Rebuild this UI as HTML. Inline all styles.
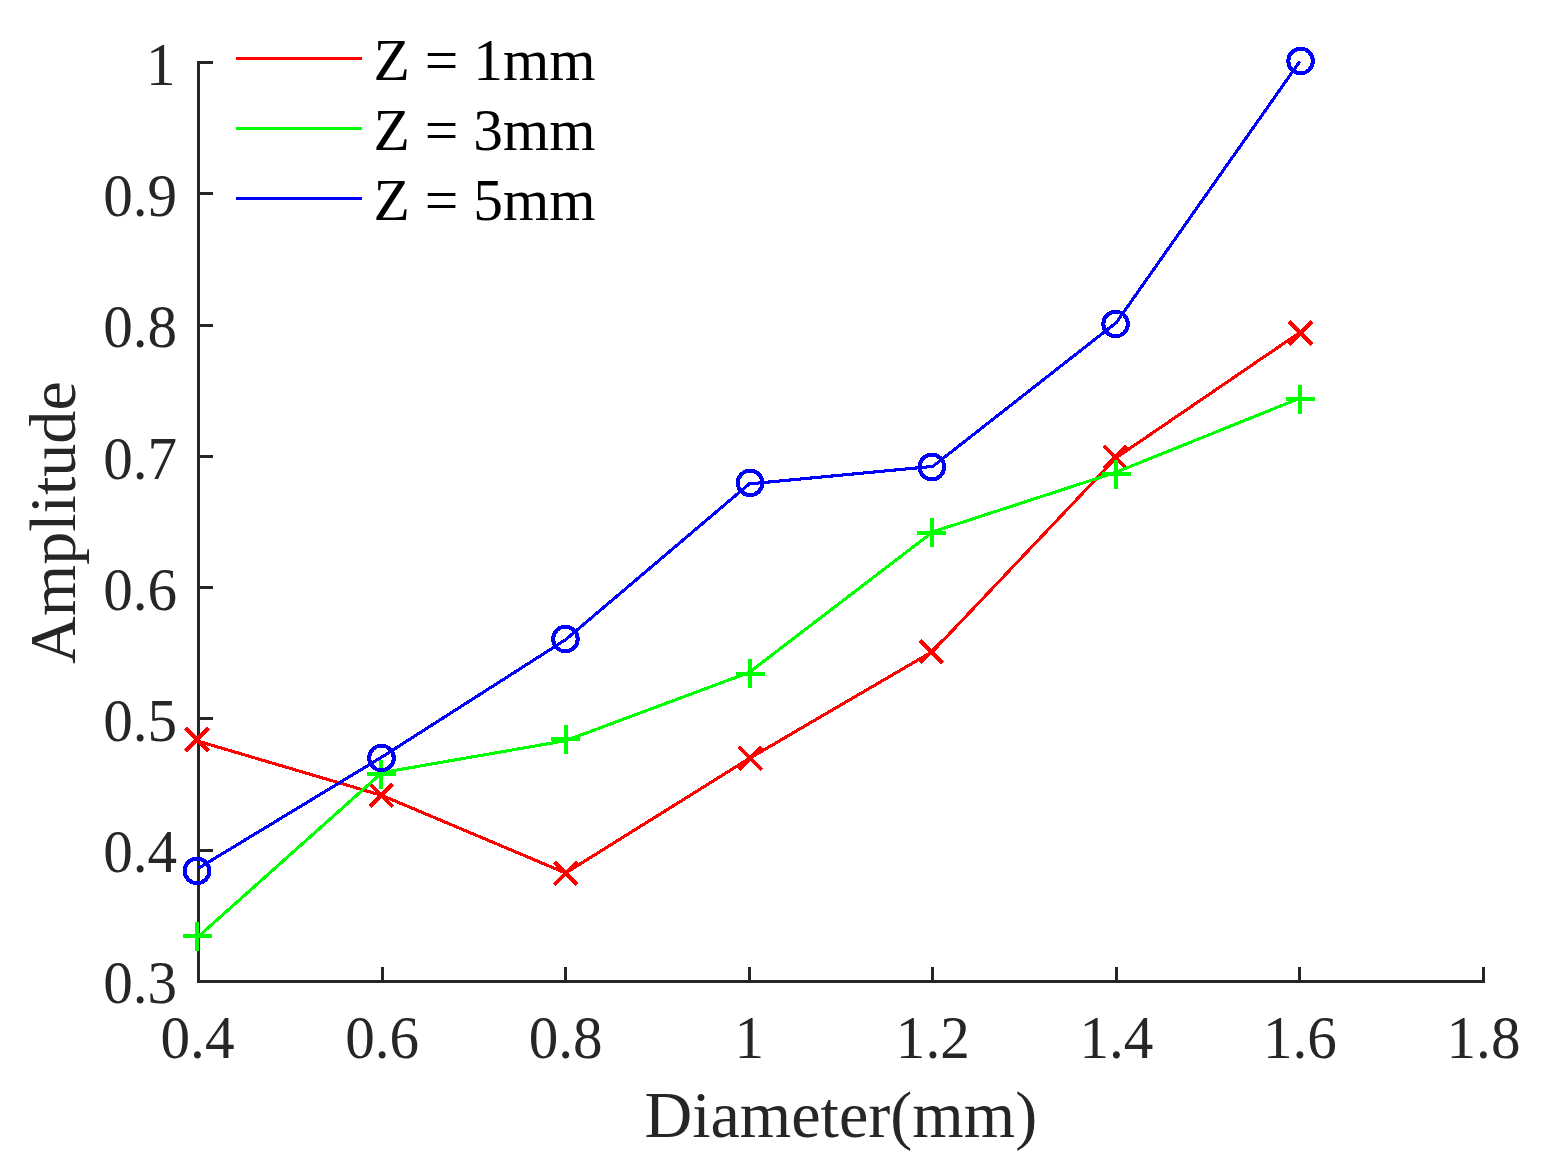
<!DOCTYPE html>
<html lang="en"><head><meta charset="utf-8"><title>Amplitude vs Diameter</title>
<style>
html,body{margin:0;padding:0;background:#fff;}
body{width:1545px;height:1174px;overflow:hidden;}
svg{display:block;}
text{font-family:"Liberation Serif",serif;}
.t{font-size:61px;fill:#262626;}
.l{font-size:66.1px;fill:#262626;}
.g{font-size:59.5px;fill:#000;}
</style></head><body>
<svg width="1545" height="1174" viewBox="0 0 1545 1174">
<rect x="0" y="0" width="1545" height="1174" fill="#ffffff"/>
<g stroke="#262626" stroke-width="3" fill="none" shape-rendering="crispEdges">
<line x1="198.5" y1="61" x2="198.5" y2="983"/>
<line x1="197" y1="981.5" x2="1485" y2="981.5"/>
<line x1="382.1" y1="981.5" x2="382.1" y2="967"/>
<line x1="565.6" y1="981.5" x2="565.6" y2="967"/>
<line x1="749.2" y1="981.5" x2="749.2" y2="967"/>
<line x1="932.8" y1="981.5" x2="932.8" y2="967"/>
<line x1="1116.4" y1="981.5" x2="1116.4" y2="967"/>
<line x1="1299.9" y1="981.5" x2="1299.9" y2="967"/>
<line x1="1483.5" y1="981.5" x2="1483.5" y2="967"/>
<line x1="198.5" y1="850.2" x2="213" y2="850.2"/>
<line x1="198.5" y1="718.9" x2="213" y2="718.9"/>
<line x1="198.5" y1="587.6" x2="213" y2="587.6"/>
<line x1="198.5" y1="456.4" x2="213" y2="456.4"/>
<line x1="198.5" y1="325.1" x2="213" y2="325.1"/>
<line x1="198.5" y1="193.8" x2="213" y2="193.8"/>
<line x1="198.5" y1="62.5" x2="213" y2="62.5"/>
</g>
<text class="t" transform="translate(197.5,1057.6) scale(0.97,1)" text-anchor="middle">0.4</text>
<text class="t" transform="translate(382.1,1057.6) scale(0.97,1)" text-anchor="middle">0.6</text>
<text class="t" transform="translate(565.6,1057.6) scale(0.97,1)" text-anchor="middle">0.8</text>
<text class="t" transform="translate(749.2,1057.6) scale(0.97,1)" text-anchor="middle">1</text>
<text class="t" transform="translate(932.8,1057.6) scale(0.97,1)" text-anchor="middle">1.2</text>
<text class="t" transform="translate(1116.4,1057.6) scale(0.97,1)" text-anchor="middle">1.4</text>
<text class="t" transform="translate(1299.9,1057.6) scale(0.97,1)" text-anchor="middle">1.6</text>
<text class="t" transform="translate(1483.5,1057.6) scale(0.97,1)" text-anchor="middle">1.8</text>
<text class="t" transform="translate(177.2,1003.0) scale(0.97,1)" text-anchor="end">0.3</text>
<text class="t" transform="translate(177.2,871.9) scale(0.97,1)" text-anchor="end">0.4</text>
<text class="t" transform="translate(177.2,740.8) scale(0.97,1)" text-anchor="end">0.5</text>
<text class="t" transform="translate(177.2,609.6) scale(0.97,1)" text-anchor="end">0.6</text>
<text class="t" transform="translate(177.2,478.5) scale(0.97,1)" text-anchor="end">0.7</text>
<text class="t" transform="translate(177.2,347.4) scale(0.97,1)" text-anchor="end">0.8</text>
<text class="t" transform="translate(177.2,216.2) scale(0.97,1)" text-anchor="end">0.9</text>
<text class="t" transform="translate(175.7,85.1) scale(0.97,1)" text-anchor="end">1</text>
<text class="l" x="840.8" y="1136.7" text-anchor="middle">Diameter(mm)</text>
<text class="l" transform="translate(75.2,522.6) rotate(-90)" text-anchor="middle">Amplitude</text>
<polyline fill="none" stroke="#ff0000" stroke-width="3.1" stroke-linejoin="miter" shape-rendering="crispEdges" points="198.5,741.3 382.1,795.5 565.6,873.0 749.2,758.5 932.8,651.3 1116.4,457.6 1299.9,332.4"/>
<path fill="none" stroke="#ff0000" stroke-width="4" shape-rendering="crispEdges" d="M185.6 728.2L208.4 751.0M185.6 751.0L208.4 728.2M370.0 784.0L392.8 806.8M370.0 806.8L392.8 784.0M554.2 862.0L577.0 884.8M554.2 884.8L577.0 862.0M738.9 746.8L761.7 769.6M738.9 769.6L761.7 746.8M920.0 640.2L942.8 663.0M920.0 663.0L942.8 640.2M1103.8 445.7L1126.6 468.5M1103.8 468.5L1126.6 445.7M1289.0 321.6L1311.8 344.4M1289.0 344.4L1311.8 321.6"/>
<polyline fill="none" stroke="#00ff00" stroke-width="3.1" stroke-linejoin="miter" shape-rendering="crispEdges" points="198.5,936.4 382.1,772.6 565.6,740.7 749.2,672.4 932.8,531.9 1116.4,472.1 1299.9,398.2"/>
<path fill="none" stroke="#00ff00" stroke-width="4" shape-rendering="crispEdges" d="M182.5 936.3H211.5M197.0 921.8V950.8M366.8 774.0H395.8M381.3 759.5V788.5M551.2 739.2H580.2M565.7 724.7V753.7M735.7 673.8H764.7M750.2 659.3V688.3M917.1 532.9H946.1M931.6 518.4V547.4M1101.6 474.0H1130.6M1116.1 459.5V488.5M1285.6 399.1H1314.6M1300.1 384.6V413.6"/>
<polyline fill="none" stroke="#0000ff" stroke-width="3.1" stroke-linejoin="miter" shape-rendering="crispEdges" points="198.5,868.2 382.1,756.9 565.6,639.7 749.2,483.9 932.8,466.4 1116.4,322.5 1299.9,61.3"/>
<circle cx="197.0" cy="870.9" r="12.3" fill="none" stroke="#0000ff" stroke-width="4" shape-rendering="crispEdges"/>
<circle cx="381.5" cy="758.0" r="12.3" fill="none" stroke="#0000ff" stroke-width="4" shape-rendering="crispEdges"/>
<circle cx="565.4" cy="639.0" r="12.3" fill="none" stroke="#0000ff" stroke-width="4" shape-rendering="crispEdges"/>
<circle cx="750.1" cy="482.9" r="12.3" fill="none" stroke="#0000ff" stroke-width="4" shape-rendering="crispEdges"/>
<circle cx="931.9" cy="467.0" r="12.3" fill="none" stroke="#0000ff" stroke-width="4" shape-rendering="crispEdges"/>
<circle cx="1115.6" cy="324.0" r="12.3" fill="none" stroke="#0000ff" stroke-width="4" shape-rendering="crispEdges"/>
<circle cx="1300.6" cy="61.0" r="12.3" fill="none" stroke="#0000ff" stroke-width="4" shape-rendering="crispEdges"/>
<line x1="236" y1="58.5" x2="362" y2="58.5" stroke="#ff0000" stroke-width="3" shape-rendering="crispEdges"/>
<text class="g" x="373.6" y="79.9">Z = 1mm</text>
<line x1="236" y1="128.5" x2="362" y2="128.5" stroke="#00ff00" stroke-width="3" shape-rendering="crispEdges"/>
<text class="g" x="373.6" y="149.9">Z = 3mm</text>
<line x1="236" y1="198.5" x2="362" y2="198.5" stroke="#0000ff" stroke-width="3" shape-rendering="crispEdges"/>
<text class="g" x="373.6" y="219.9">Z = 5mm</text>
</svg>
</body></html>
